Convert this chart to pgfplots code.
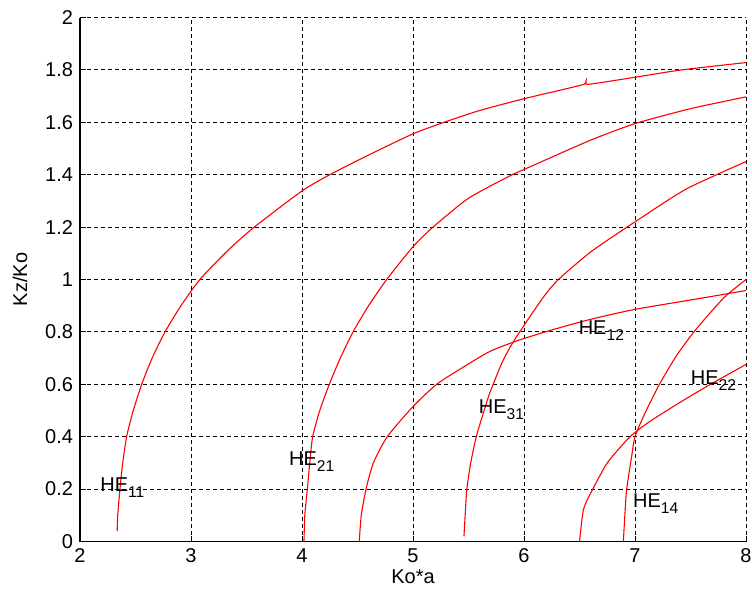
\documentclass[border=0pt]{standalone}
\usepackage{fontspec}
\setmainfont{Liberation Sans}
\usepackage{pgfplots}
\pgfplotsset{compat=1.18}

\newcommand{\he}[1]{HE\raisebox{-3pt}{\fontsize{7.8}{8}\selectfont #1}}

\begin{document}
\begin{tikzpicture}
\begin{axis}[
  scale only axis, width=333pt, height=262pt,
  xmin=2, xmax=8, ymin=0, ymax=2,
  axis lines=left, axis line style={-, black, line width=0.8pt},
  xtick={2,3,4,5,6,7,8},
  ytick={0,0.2,0.4,0.6,0.8,1,1.2,1.4,1.6,1.8,2},
  tick align=inside, major tick length=3pt,
  tick style={black, line width=0.5pt},
  grid=major, grid style={black, line width=0.5pt, dash pattern=on 2pt off 1.5pt},
  /pgf/number format/assume math mode=true,
  ticklabel style={font=\fontsize{10}{12}\selectfont},
  label style={font=\fontsize{10}{12}\selectfont},
  xlabel={Ko*a}, ylabel={Kz/Ko},
  xlabel style={at={(axis description cs:0.5,-0.0676)}, anchor=center},
  ylabel style={at={(axis description cs:-0.09,0.5)}, anchor=center},
]
\coordinate (sw) at (rel axis cs:0,0);
\coordinate (ne) at (rel axis cs:1,1);

% HE11 branch
\addplot[red, line width=0.55pt, mark=none, solid, smooth, tension=0.4] coordinates {
  (2.335,0.04) (2.34,0.1) (2.36,0.2) (2.385,0.3) (2.42,0.4) (2.48,0.5)
  (2.556,0.6) (2.65,0.7) (2.766,0.8) (2.91,0.9) (3.08,1.0) (3.33,1.11)
  (3.57,1.2) (4.0,1.338) (4.25,1.4) (4.6,1.475) (5.0,1.556) (5.28,1.6)
  (5.6,1.645) (6.0,1.69) (6.3,1.72) (6.54,1.745) (6.56,1.758) (6.58,1.745)
  (7.0,1.772) (7.42,1.8) (8.0,1.828)};
% HE21 branch
\addplot[red, line width=0.55pt, mark=none, solid, smooth, tension=0.4] coordinates {
  (4.018,0) (4.025,0.1) (4.048,0.2) (4.07,0.3) (4.096,0.4) (4.16,0.5)
  (4.246,0.6) (4.345,0.7) (4.46,0.8) (4.6,0.9) (4.763,1.0) (5.0,1.125)
  (5.18,1.2) (5.5,1.31) (5.87,1.395) (6.0,1.42) (6.59,1.53) (7.0,1.595)
  (7.5,1.652) (8.0,1.697)};
% HE12 branch
\addplot[red, line width=0.55pt, mark=none, solid, smooth, tension=0.4] coordinates {
  (4.516,0) (4.534,0.1) (4.577,0.2) (4.643,0.3) (4.768,0.4) (5.0,0.515)
  (5.213,0.6) (5.45,0.665) (5.69,0.725) (5.93,0.765) (6.23,0.805) (6.6,0.848)
  (7.0,0.886) (7.56,0.926) (8.0,0.958)};
% HE31 branch
\addplot[red, line width=0.55pt, mark=none, solid, smooth, tension=0.4] coordinates {
  (5.459,0.02) (5.47,0.1) (5.485,0.2) (5.52,0.3) (5.57,0.4) (5.63,0.485)
  (5.69,0.565) (5.81,0.69) (5.93,0.78) (6.17,0.93) (6.31,1.0) (6.6,1.105)
  (6.91,1.195) (7.0,1.22) (7.46,1.345) (8.0,1.45)};
% HE22 branch
\addplot[red, line width=0.55pt, mark=none, solid, smooth, tension=0.4] coordinates {
  (6.50,0) (6.53,0.11) (6.56,0.15) (6.62,0.2) (6.75,0.3) (6.955,0.4)
  (7.14,0.46) (7.44,0.54) (7.68,0.6) (8.0,0.676)};
% HE14 branch
\addplot[red, line width=0.55pt, mark=none, solid, smooth, tension=0.4] coordinates {
  (6.895,0) (6.91,0.11) (6.925,0.2) (6.97,0.325) (7.0,0.4) (7.09,0.49)
  (7.22,0.6) (7.375,0.71) (7.55,0.81) (7.8,0.93) (8.0,1.0)};

\node[anchor=base west, inner sep=0, font=\fontsize{10}{12}\selectfont] at (axis cs:2.18,0.19) {\he{11}};
\node[anchor=base west, inner sep=0, font=\fontsize{10}{12}\selectfont] at (axis cs:3.88,0.29) {\he{21}};
\node[anchor=base west, inner sep=0, font=\fontsize{10}{12}\selectfont] at (axis cs:5.59,0.49) {\he{31}};
\node[anchor=base west, inner sep=0, font=\fontsize{10}{12}\selectfont] at (axis cs:6.49,0.79) {\he{12}};
\node[anchor=base west, inner sep=0, font=\fontsize{10}{12}\selectfont] at (axis cs:6.98,0.13) {\he{14}};
\node[anchor=base west, inner sep=0, font=\fontsize{10}{12}\selectfont] at (axis cs:7.50,0.60) {\he{22}};
\end{axis}
\pgfresetboundingbox
\path[use as bounding box] ([xshift=-40pt,yshift=-27pt]sw) rectangle ([xshift=3pt,yshift=8.75pt]ne);
\end{tikzpicture}
\end{document}
